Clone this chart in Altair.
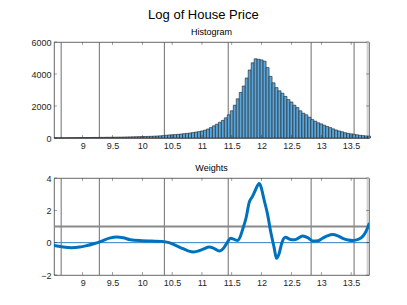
import altair as alt
import pandas as pd

# ---------------- data ----------------
bin_start = 8.525
bin_width = 0.05
counts = [
    15, 10, 12, 15, 18, 20, 20, 25, 25, 30, 30, 30, 32, 35, 35, 40, 40, 45, 45, 50, 50, 55, 55, 60, 65,
    70, 75, 80, 85, 90, 95, 100, 105, 115, 125,
    135, 150, 170, 190, 205, 215, 230, 250, 270, 290, 310, 340, 370, 400, 440,
    490, 560, 650, 760, 860, 980, 1100, 1260,
    1450, 1700, 2050, 2450, 2850, 3250, 3750, 4250, 4700, 4950, 4920, 4880, 4800, 4400, 3850, 3450,
    3150, 2950, 2800, 2600, 2400, 2250, 2050, 1900, 1700, 1550, 1450, 1300, 1150, 1050, 950, 880,
    800, 720, 650, 570, 500, 440, 390, 330, 290, 260, 230, 200, 170, 150, 130, 115,
]

weight_x = [8.52, 8.65, 8.81, 8.95, 9.05, 9.2, 9.32, 9.45, 9.57, 9.68, 9.8, 9.99, 10.15, 10.33,
            10.45, 10.55, 10.67, 10.78, 10.86, 10.95, 11.02, 11.12, 11.2, 11.29, 11.37, 11.43,
            11.48, 11.54, 11.6, 11.64, 11.68, 11.74, 11.79, 11.85, 11.9, 11.96, 11.99, 12.04,
            12.1, 12.15, 12.21, 12.25, 12.29, 12.34, 12.4, 12.48, 12.55, 12.69, 12.78, 12.86,
            12.95, 13.02, 13.1, 13.19, 13.28, 13.36, 13.45, 13.53, 13.62, 13.7, 13.75, 13.8]
weight_y = [-0.17, -0.25, -0.31, -0.27, -0.2, -0.05, 0.1, 0.28, 0.35, 0.3, 0.18, 0.12, 0.1, 0.08,
            0.0, -0.15, -0.35, -0.52, -0.57, -0.5, -0.4, -0.27, -0.35, -0.52, -0.31, 0.05,
            0.27, 0.2, 0.14, 0.35, 0.8, 1.54, 2.46, 2.88, 3.29, 3.66, 3.45, 2.67,
            1.75, 0.72, -0.31, -0.97, -0.72, 0.0, 0.33, 0.2, 0.18, 0.41, 0.3, 0.1,
            0.12, 0.27, 0.42, 0.51, 0.42, 0.27, 0.17, 0.14, 0.2, 0.41, 0.7, 1.15]

x_ticks = [9, 9.5, 10, 10.5, 11, 11.5, 12, 12.5, 13, 13.5]
hist_y_ticks = [0, 2000, 4000, 6000]
weight_y_ticks = [-2, 0, 2, 4]
vlines = [8.64, 9.28, 10.37, 11.44, 12.83, 13.55]
band_start, band_end = 13.76, 13.8
weight_ref_lines = [1]
weight_zero = [0]

x_domain = [8.52, 13.8]

# ---------------- frames ----------------
hist_df = pd.DataFrame({
    "x0": [bin_start + i * bin_width for i in range(len(counts))],
    "x1": [bin_start + (i + 1) * bin_width for i in range(len(counts))],
    "count": counts,
})
w_df = pd.DataFrame({"x": weight_x, "w": weight_y})
xt_df = pd.DataFrame({"x": x_ticks})
vl_df = pd.DataFrame({"x": vlines})
band_df = pd.DataFrame({"a": [band_start], "b": [band_end]})

W = 315
H1 = 96
H2 = 97
FONT = "Liberation Sans"
TXT = "#262626"

xscale = alt.Scale(domain=x_domain, nice=False, zero=False)
xaxis = alt.Axis(values=x_ticks, format=".3~g", title=None, labelOverlap=False,
                 labelFlush=False, tickCount=len(x_ticks))


def panel(height, yscale, yticks, yformat, extra_layers, title):
    yaxis = alt.Axis(values=yticks, format=yformat, title=None, minExtent=40, maxExtent=40,
                     labelOverlap=False, labelFlush=False, tickCount=len(yticks))
    band = alt.Chart(band_df).mark_rect(color="#d0d0d0").encode(
        x=alt.X("a:Q", scale=xscale, axis=xaxis), x2="b:Q",
        y=alt.value(0), y2=alt.value(height))
    lines = alt.Chart(vl_df).mark_rule(color="#6e6e6e", strokeWidth=1).encode(
        x=alt.X("x:Q", scale=xscale, axis=xaxis), y=alt.value(0), y2=alt.value(height))
    yt_df = pd.DataFrame({"y": yticks})
    tb = alt.Chart(xt_df).mark_tick(color=TXT, thickness=0.6, size=3).encode(
        x=alt.X("x:Q", scale=xscale, axis=xaxis), y=alt.value(height - 1.5))
    tt = alt.Chart(xt_df).mark_tick(color=TXT, thickness=0.6, size=3).encode(
        x=alt.X("x:Q", scale=xscale, axis=xaxis), y=alt.value(1.5))
    tl = alt.Chart(yt_df).mark_tick(color=TXT, thickness=0.6, size=3).encode(
        y=alt.Y("y:Q", scale=yscale, axis=yaxis), x=alt.value(1.5))
    tr = alt.Chart(yt_df).mark_tick(color=TXT, thickness=0.6, size=3).encode(
        y=alt.Y("y:Q", scale=yscale, axis=yaxis), x=alt.value(W - 1.5))
    layers = [band, lines] + [lyr(yaxis) for lyr in extra_layers] + [tb, tt, tl, tr]
    return alt.layer(*layers).properties(
        width=W, height=height,
        title=alt.Title(title, fontSize=9, fontWeight="normal", font=FONT, color="black", offset=1))


hscale = alt.Scale(domain=[0, 6000], nice=False)


def bars(yaxis):
    return alt.Chart(hist_df).mark_rect(fill="#5aa6da", stroke="#1c1c1c", strokeWidth=0.6).encode(
        x=alt.X("x0:Q", scale=xscale, axis=xaxis), x2="x1:Q",
        y=alt.Y("count:Q", scale=hscale, axis=yaxis), y2=alt.datum(0))


top = panel(H1, hscale, hist_y_ticks, "d", [bars], "Histogram")

wscale = alt.Scale(domain=[-2, 4], nice=False)


def ref1(yaxis):
    return alt.Chart(pd.DataFrame({"y": weight_ref_lines})).mark_rule(
        color="#8a8a8a", strokeWidth=1.8).encode(
        y=alt.Y("y:Q", scale=wscale, axis=yaxis), x=alt.value(0), x2=alt.value(W))


def ref0(yaxis):
    return alt.Chart(pd.DataFrame({"y": weight_zero})).mark_rule(
        color="#2f7fc0", strokeWidth=1).encode(
        y=alt.Y("y:Q", scale=wscale, axis=yaxis), x=alt.value(0), x2=alt.value(W))


def curve(yaxis):
    return alt.Chart(w_df).mark_line(color="#0072BD", strokeWidth=3, interpolate="monotone",
                                     strokeCap="round", clip=True).encode(
        x=alt.X("x:Q", scale=xscale, axis=xaxis), y=alt.Y("w:Q", scale=wscale, axis=yaxis))


bottom = panel(H2, wscale, weight_y_ticks, "d", [ref1, ref0, curve], "Weights")

chart = alt.vconcat(top, bottom, spacing=12).properties(
    title=alt.Title("Log of House Price", fontSize=13, fontWeight="normal", font=FONT,
                    color="black", anchor="middle", offset=6, dx=11),
    padding={"left": 5, "top": 0, "right": 5, "bottom": 2},
).configure_view(stroke="#404040", strokeWidth=0.8).configure_axis(
    domain=False, ticks=False, grid=False, labelFont=FONT, labelFontSize=9,
    labelColor=TXT, labelPadding=3, labelOverlap=False,
)

chart.save("out.html", embed_options={"renderer": "svg", "actions": False})
